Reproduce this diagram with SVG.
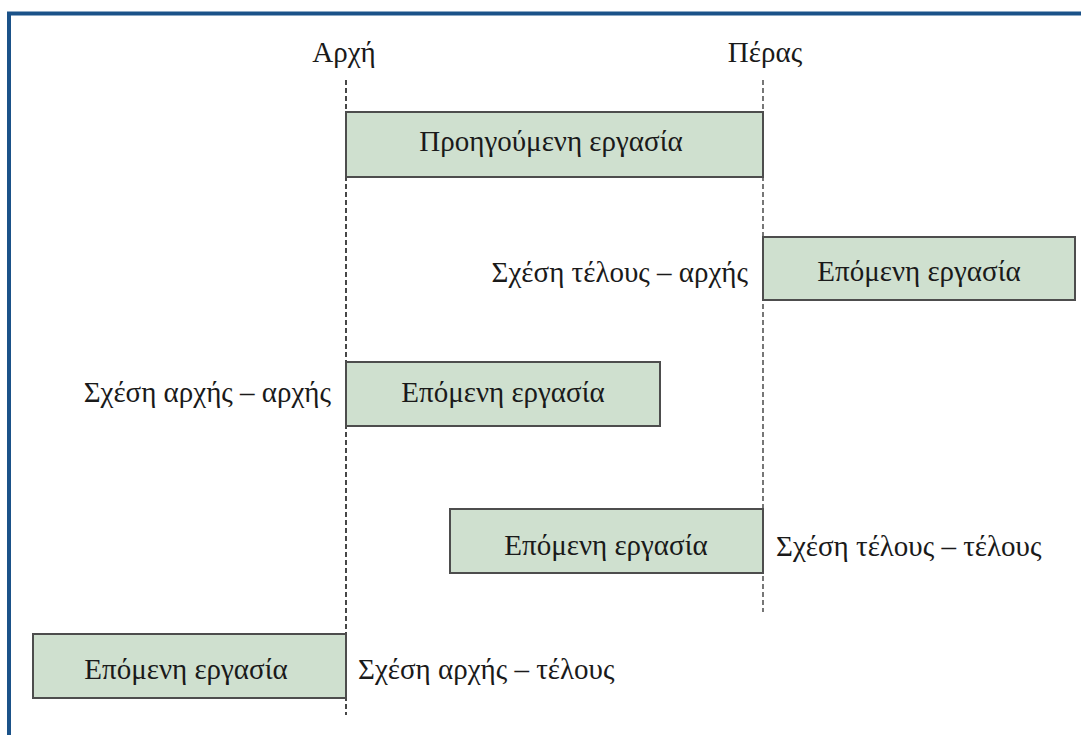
<svg xmlns="http://www.w3.org/2000/svg" width="1081" height="735" viewBox="0 0 1081 735">
  <style>
    .frame { fill: none; stroke: #1b5289; stroke-width: 4; }
    .guide { fill: none; stroke: #1a1a1a; stroke-width: 1.6; stroke-dasharray: 5 3; }
    .guide.end { stroke: #555; }
    .task { fill: #cfe0cf; stroke: #4d4d4d; stroke-width: 2; }
    .t { font-family: "Liberation Serif", "Times New Roman", serif; font-size: 29px; fill: #1a1a1a; }
    .c { text-anchor: middle; }
    .r { text-anchor: end; }
  </style>

  <rect width="1081" height="735" fill="#fff"/>

  <!-- frame: top and left rules -->
  <path class="frame" d="M9 735 V13.5 H1081"/>

  <!-- time axis headings -->
  <text class="t c" x="344" y="62">Αρχή</text>
  <text class="t c" x="765" y="62">Πέρας</text>

  <!-- start / finish guide lines -->
  <g id="connectors">
    <line class="guide" x1="346" y1="80" x2="346" y2="715"/>
    <line class="guide end" x1="763" y1="80" x2="763" y2="612"/>
  </g>

  <g id="predecessor">
    <rect class="task" x="346" y="112" width="417" height="65"/>
    <text class="t c" x="551" y="151">Προηγούμενη εργασία</text>
  </g>

  <g id="finish-start">
    <rect class="task" x="763" y="237" width="312" height="63"/>
    <text class="t c" x="919" y="281">Επόμενη εργασία</text>
    <text class="t r" x="748" y="282">Σχέση τέλους – αρχής</text>
  </g>

  <g id="start-start">
    <rect class="task" x="346" y="362" width="314" height="64"/>
    <text class="t c" x="503" y="402">Επόμενη εργασία</text>
    <text class="t r" x="331" y="402">Σχέση αρχής – αρχής</text>
  </g>

  <g id="finish-finish">
    <rect class="task" x="450" y="509" width="313" height="64"/>
    <text class="t c" x="606" y="555">Επόμενη εργασία</text>
    <text class="t" x="776" y="556">Σχέση τέλους – τέλους</text>
  </g>

  <g id="start-finish">
    <rect class="task" x="33" y="634" width="313" height="64"/>
    <text class="t c" x="186" y="679">Επόμενη εργασία</text>
    <text class="t" x="358" y="679">Σχέση αρχής – τέλους</text>
  </g>
</svg>
